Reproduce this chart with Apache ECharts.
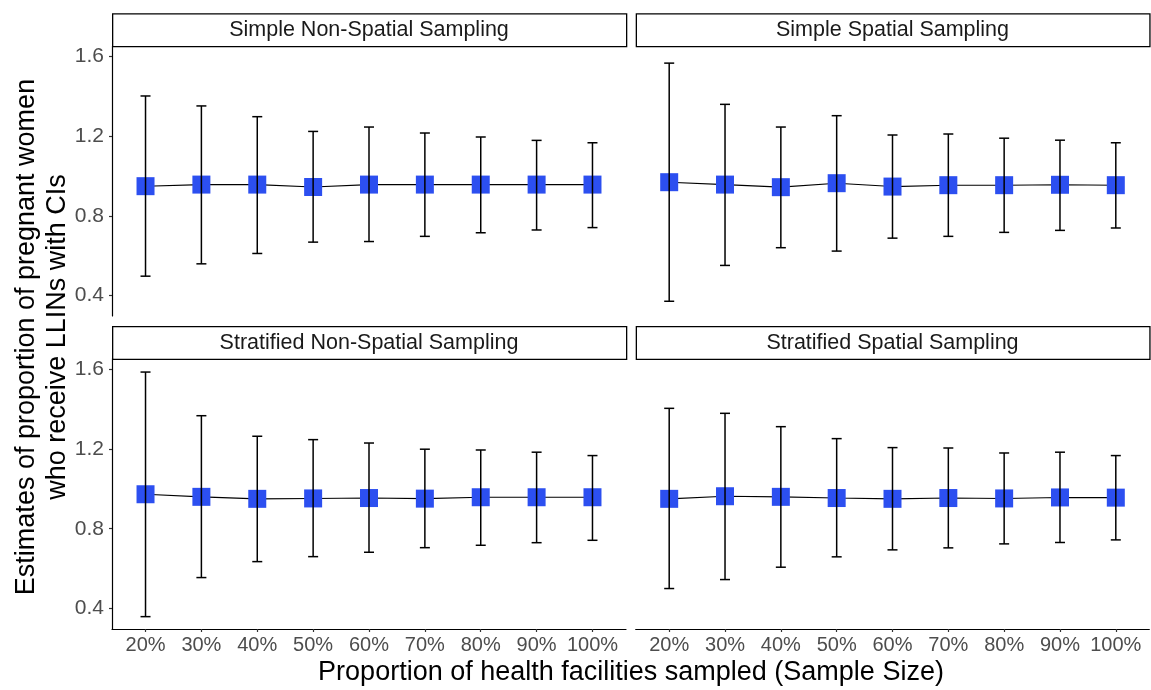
<!DOCTYPE html>
<html lang="en">
<head>
<meta charset="UTF-8">
<title>Estimates by sampling design</title>
<script src="https://cdn.jsdelivr.net/npm/echarts@6/dist/echarts.min.js"></script>
<style>
  html, body { margin: 0; padding: 0; background: #fff; }
  #main { width: 1151px; height: 690px; }
</style>
</head>
<body>
<div id="main"></div>
<script>
// categories and tick labels
var categories = ['20%', '30%', '40%', '50%', '60%', '70%', '80%', '90%', '100%'];
var yTicks = [0.4, 0.8, 1.2, 1.6];
var panelNames = ['Simple Non-Spatial Sampling', 'Simple Spatial Sampling',
                  'Stratified Non-Spatial Sampling', 'Stratified Spatial Sampling'];

// Simple Non-Spatial Sampling
var snsEst = [0.949, 0.957, 0.957, 0.945, 0.957, 0.957, 0.957, 0.957, 0.957];
var snsLow = [0.497, 0.559, 0.611, 0.668, 0.671, 0.697, 0.715, 0.729, 0.741];
var snsHigh = [1.402, 1.352, 1.298, 1.224, 1.246, 1.216, 1.196, 1.179, 1.167];

// Simple Spatial Sampling
var ssEst = [0.969, 0.957, 0.944, 0.964, 0.947, 0.954, 0.954, 0.956, 0.954];
var ssLow = [0.371, 0.551, 0.640, 0.623, 0.688, 0.697, 0.717, 0.727, 0.739];
var ssHigh = [1.567, 1.360, 1.246, 1.303, 1.206, 1.211, 1.190, 1.180, 1.167];

// Stratified Non-Spatial Sampling
var stnsEst = [0.973, 0.960, 0.950, 0.952, 0.954, 0.951, 0.958, 0.958, 0.958];
var stnsLow = [0.359, 0.555, 0.635, 0.660, 0.682, 0.705, 0.717, 0.730, 0.742];
var stnsHigh = [1.586, 1.367, 1.264, 1.247, 1.230, 1.199, 1.195, 1.184, 1.167];

// Stratified Spatial Sampling
var stsEst = [0.950, 0.963, 0.960, 0.954, 0.950, 0.954, 0.952, 0.957, 0.956];
var stsLow = [0.500, 0.545, 0.607, 0.659, 0.694, 0.704, 0.724, 0.731, 0.744];
var stsHigh = [1.404, 1.379, 1.312, 1.252, 1.207, 1.205, 1.180, 1.184, 1.167];

var panels = [
  { est: snsEst, low: snsLow, high: snsHigh },
  { est: ssEst, low: ssLow, high: ssHigh },
  { est: stnsEst, low: stnsLow, high: stnsHigh },
  { est: stsEst, low: stsLow, high: stsHigh }
];

var FONT = '"Liberation Sans", Arial, sans-serif';
var xPos = [1, 2, 3, 4, 5, 6, 7, 8, 9];

// panel boxes (left, top, width, height)
var boxes = [
  [112, 46, 514, 270],
  [635.7, 46, 513.6, 270],
  [112, 358.7, 514, 270.3],
  [635.7, 358.7, 513.6, 270.3]
];

var chart = echarts.init(document.getElementById('main'));

var grids = [], xAxes = [], yAxes = [], series = [], graphics = [];

boxes.forEach(function (b, i) {
  var isBottom = i >= 2, isLeft = i % 2 === 0;
  grids.push({ left: b[0], top: b[1], width: b[2], height: b[3], containLabel: false });

  xAxes.push({
    type: 'value', gridIndex: i, min: 0.4, max: 9.6,
    splitLine: { show: false },
    axisLine: { show: isBottom, onZero: false, lineStyle: { color: '#000', width: 1.2 } },
    axisTick: { show: isBottom, customValues: xPos, length: 3, lineStyle: { color: '#333', width: 1.2 } },
    axisLabel: {
      show: isBottom, customValues: xPos, margin: 6,
      fontFamily: FONT, fontSize: 20, color: '#4D4D4D',
      formatter: function (v) { return categories[Math.round(v) - 1]; }
    }
  });

  yAxes.push({
    type: 'value', gridIndex: i, min: 0.297, max: 1.653,
    splitLine: { show: false },
    axisLine: { show: isLeft, onZero: false, lineStyle: { color: '#000', width: 1.2 } },
    axisTick: { show: isLeft, customValues: yTicks, length: 3, lineStyle: { color: '#333', width: 1.2 } },
    axisLabel: {
      show: isLeft, customValues: yTicks, margin: 8,
      fontFamily: FONT, fontSize: 21, color: '#4D4D4D',
      formatter: function (v) { return v.toFixed(1); }
    }
  });

  var p = panels[i];
  var pts = xPos.map(function (x, k) { return [x, p.est[k]]; });
  var bars = xPos.map(function (x, k) { return [x, p.low[k], p.high[k]]; });

  series.push({
    type: 'line', xAxisIndex: i, yAxisIndex: i, data: pts,
    showSymbol: false, silent: true, z: 1,
    lineStyle: { color: '#000', width: 1.1 }
  });
  series.push({
    type: 'scatter', xAxisIndex: i, yAxisIndex: i, data: pts,
    symbol: 'rect', symbolSize: 18, silent: true, z: 2,
    itemStyle: { color: '#2C4FF0', opacity: 1 }
  });
  series.push({
    type: 'custom', xAxisIndex: i, yAxisIndex: i, data: bars, z: 3, silent: true,
    encode: { x: 0, y: [1, 2] },
    renderItem: function (params, api) {
      var top = api.coord([api.value(0), api.value(2)]);
      var bot = api.coord([api.value(0), api.value(1)]);
      var hw = 5;
      var st = { stroke: '#000', lineWidth: 1.5 };
      return {
        type: 'group',
        children: [
          { type: 'line', shape: { x1: top[0], y1: top[1], x2: bot[0], y2: bot[1] }, style: st },
          { type: 'line', shape: { x1: top[0] - hw, y1: top[1], x2: top[0] + hw, y2: top[1] }, style: st },
          { type: 'line', shape: { x1: bot[0] - hw, y1: bot[1], x2: bot[0] + hw, y2: bot[1] }, style: st }
        ]
      };
    }
  });

  // facet strip
  graphics.push({
    type: 'rect', left: b[0], top: b[1] - 32.7,
    shape: { width: b[2], height: 32.7 },
    style: { fill: '#fff', stroke: '#000', lineWidth: 1.3 }
  });
  graphics.push({
    type: 'text', x: b[0] + b[2] / 2, y: b[1] - 15.5,
    style: {
      text: panelNames[i], fontFamily: FONT, fontSize: 21.5, fill: '#1A1A1A',
      align: 'center', verticalAlign: 'middle'
    }
  });
});

// axis titles
graphics.push({
  type: 'text', x: 631, y: 673,
  style: {
    text: 'Proportion of health facilities sampled (Sample Size)',
    fontFamily: FONT, fontSize: 27, fill: '#000', align: 'center', verticalAlign: 'middle'
  }
});
graphics.push({
  type: 'text', x: 42, y: 337, rotation: Math.PI / 2,
  style: {
    text: 'Estimates of proportion of pregnant women\nwho receive LLINs with CIs',
    fontFamily: FONT, fontSize: 27, lineHeight: 31, fill: '#000',
    align: 'center', verticalAlign: 'middle'
  }
});

chart.setOption({
  animation: false,
  grid: grids,
  xAxis: xAxes,
  yAxis: yAxes,
  series: series,
  graphic: graphics
});
</script>
</body>
</html>
